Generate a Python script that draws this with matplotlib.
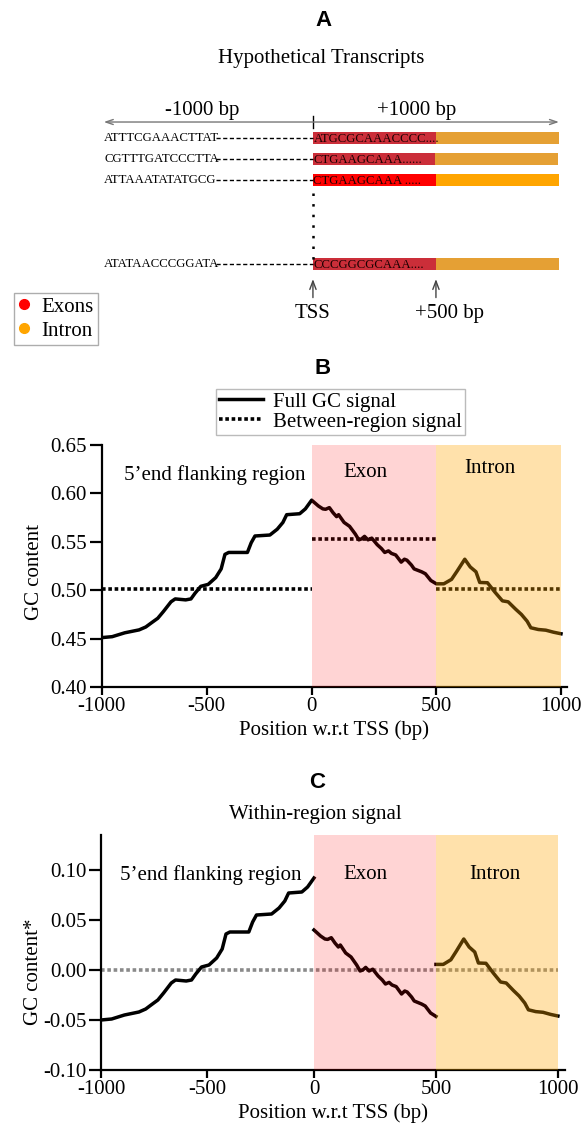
import matplotlib
matplotlib.use("Agg")
import matplotlib.pyplot as plt
import numpy as np
from matplotlib.lines import Line2D

# ---------------- data ----------------
# panel A: hypothetical transcripts
upstream_seqs = ["ATTTCGAAACTTAT", "CGTTTGATCCCTTA", "ATTAAATATATGCG", "ATATAACCCGGATA"]
exon_seqs = ["ATGCGCAAACCCC....", "CTGAAGCAAA......", "CTGAAGCAAA .....", "CCCGGCGCAAA...."]
row_pos = [0, 1, 2, 6]
exon_end = [500, 498, 500, 500]
transcript_end = [1000, 995, 1000, 1000]
exon_colors = ["#cb2e39", "#cb2e39", "#ff0000", "#cb2e39"]
intron_colors = ["#e5a034", "#e5a034", "#ffa500", "#e5a034"]

# panel B: GC content along the three regions
flank_x = [-1000, -950, -890, -822, -790, -765, -733, -706, -670, -650,
           -600, -575, -555, -528, -493, -457, -431, -413, -395, -306,
           -288, -270, -199, -164, -137, -119, -57, -30, 0]
flank_gc = [0.451, 0.452, 0.456, 0.459, 0.462, 0.466, 0.471, 0.478, 0.488, 0.491,
            0.490, 0.491, 0.497, 0.504, 0.506, 0.513, 0.522, 0.537, 0.539, 0.539,
            0.549, 0.556, 0.557, 0.563, 0.570, 0.578, 0.579, 0.584, 0.593]
exon_x = [0, 27, 45, 56, 71, 86, 100, 108, 130, 152,
          175, 189, 200, 212, 226, 241, 263, 280, 293, 308,
          320, 337, 359, 372, 382, 400, 411, 441, 456, 478, 500]
exon_gc = [0.593, 0.587, 0.584, 0.5836, 0.5853, 0.580, 0.576, 0.578, 0.570, 0.566,
           0.558, 0.552, 0.553, 0.5556, 0.552, 0.5538, 0.547, 0.543, 0.539, 0.5406,
           0.538, 0.5364, 0.529, 0.532, 0.531, 0.526, 0.522, 0.519, 0.517, 0.510, 0.5066]
intron_x = [500, 530, 561, 583, 614, 636, 659, 674, 705, 735,
            765, 788, 818, 841, 864, 879, 909, 939, 970, 1000]
intron_gc = [0.5066, 0.5066, 0.5112, 0.5196, 0.532, 0.524, 0.519, 0.508, 0.5077, 0.498,
             0.489, 0.488, 0.4804, 0.475, 0.468, 0.4612, 0.4594, 0.4587, 0.4566, 0.455]

region_names = ["5\u2019end flanking region", "Exon", "Intron"]
region_bounds = [(-1000, 0), (0, 500), (500, 1000)]
between_gc = [0.501, 0.553, 0.501]

xticks = [-1000, -500, 0, 500, 1000]
b_yticks = [0.40, 0.45, 0.50, 0.55, 0.60, 0.65]
c_yticks = [-0.10, -0.05, 0.00, 0.05, 0.10]

# ---------------- style ----------------
plt.rcParams["font.family"] = ["Liberation Serif", "DejaVu Serif"]
plt.rcParams["font.size"] = 15
plt.rcParams["axes.unicode_minus"] = False

W, H = 587, 1137
fig = plt.figure(figsize=(W / 100, H / 100), dpi=100)


def fy(px):
    # pixel row -> figure fraction
    return 1 - px / H


def letter(x, y, s):
    fig.text(x / W, fy(y), s, ha="center", va="center", fontsize=16,
             fontweight="bold", family="Liberation Sans")


# x axis is squeezed on the upstream side
def make_scale(k):
    def fwd(x):
        x = np.asarray(x, dtype=float)
        return np.where(x < 0, x * k, x)

    def inv(u):
        u = np.asarray(u, dtype=float)
        return np.where(u < 0, u / k, u)
    return fwd, inv


def style_axes(ax, k, xright):
    ax.set_xscale("function", functions=make_scale(k))
    ax.set_xlim(-1000, xright)
    ax.set_xticks(xticks)
    ax.set_xticklabels([str(t) for t in xticks])
    for s in ["top", "right"]:
        ax.spines[s].set_visible(False)
    for s in ["left", "bottom"]:
        ax.spines[s].set_linewidth(1.6)
    ax.tick_params(axis="y", length=8.5, width=1.6, pad=2)
    ax.tick_params(axis="x", length=5.5, width=1.6, pad=2)
    ax.set_xlabel("Position w.r.t TSS (bp)", labelpad=3)
    ax.axvspan(0, 500, color="red", alpha=0.17, lw=0, zorder=3)
    ax.axvspan(500, 1000, color="orange", alpha=0.33, lw=0, zorder=3)


# ---------------- panel A ----------------
letter(324, 20, "A")
fig.text(321 / W, fy(58), "Hypothetical Transcripts", ha="center", va="center")

ax_a = fig.add_axes([0, fy(340), 1, 340 / H])
ax_a.axis("off")
ax_a.set_xlim(-1272, 1114)
ax_a.set_ylim(9.62, -6.57)

for i, r in enumerate(row_pos):
    ax_a.barh(r, exon_end[i], left=0, height=0.57, color=exon_colors[i])
    ax_a.barh(r, transcript_end[i] - exon_end[i], left=exon_end[i], height=0.57,
              color=intron_colors[i])
    ax_a.text(2, r + 0.05, exon_seqs[i], fontsize=9.2, va="center", ha="left", color="#1a0000")
    ax_a.text(-848, r, upstream_seqs[i], fontsize=9.2, va="center", ha="left")
    ax_a.plot([-392, 0], [r, r], ls=(0, (3, 1.8)), color="black", lw=1)

ax_a.plot([0, 0], [2.6, 5.8], ls=(0, (1, 3.24)), color="black", lw=1.8)

ax_a.annotate("", xy=(-850, -0.76), xytext=(1000, -0.76),
              arrowprops=dict(arrowstyle="<->,head_length=0.35,head_width=0.12",
                              color="#777777", lw=1, shrinkA=0, shrinkB=0))
ax_a.plot([0, 0], [-1.05, -0.48], color="black", lw=1)
ax_a.text(-451, -1.33, "-1000 bp", ha="center", va="center")
ax_a.text(423, -1.33, "+1000 bp", ha="center", va="center")

for xa in [0, 500]:
    ax_a.annotate("", xy=(xa, 6.72), xytext=(xa, 7.6),
                  arrowprops=dict(arrowstyle="->,head_length=0.4,head_width=0.15",
                                  color="#444444", lw=1, shrinkA=0, shrinkB=0))
ax_a.text(0, 8.38, "TSS", ha="center", va="center")
ax_a.text(555, 8.38, "+500 bp", ha="center", va="center")

handles_a = [Line2D([], [], ls="none", marker="o", ms=7, color="red", label="Exons"),
             Line2D([], [], ls="none", marker="o", ms=7, color="orange", label="Intron")]
fig.legend(handles=handles_a, loc="upper left", bbox_to_anchor=(14 / W, fy(293)),
           frameon=True, fancybox=False, edgecolor="#999999", borderpad=0.2,
           labelspacing=0.2, handlelength=0.6, handletextpad=0.5, borderaxespad=0)

# ---------------- panel B ----------------
letter(323, 368, "B")
ax_b = fig.add_axes([101.7 / W, fy(687), 465.3 / W, 242 / H])
style_axes(ax_b, 0.842, 1024)
ax_b.set_ylim(0.40, 0.65)
ax_b.set_yticks(b_yticks)
ax_b.set_yticklabels(["%.2f" % v for v in b_yticks])
ax_b.set_ylabel("GC content")
ax_b.yaxis.set_label_coords(-0.125, 0.475)

full_x = flank_x + exon_x[1:] + intron_x[1:]
full_gc = flank_gc + exon_gc[1:] + intron_gc[1:]
ax_b.plot(full_x, full_gc, color="black", lw=2.5, zorder=2, label="Full GC signal")
for j, (x0, x1) in enumerate(region_bounds):
    ax_b.plot([x0, x1], [between_gc[j], between_gc[j]], color="black", lw=2.6,
              ls=(0, (1, 0.75)), zorder=2,
              label="Between-region signal" if j == 0 else None)

b_label_pos = [(-460, 0.619), (215, 0.622), (716, 0.626)]
for name, (tx, ty) in zip(region_names, b_label_pos):
    ax_b.text(tx, ty, name, ha="center", va="center", zorder=4)

ax_b.legend(loc="upper center", bbox_to_anchor=(0.513, 1.232), frameon=True,
            fancybox=False, edgecolor="#aaaaaa", borderpad=0.15, labelspacing=0.02,
            handlelength=2.1, handletextpad=0.5, borderaxespad=0)

# ---------------- panel C ----------------
letter(317, 783, "C")
fig.text(315 / W, fy(814), "Within-region signal", ha="center", va="center")
ax_c = fig.add_axes([101 / W, fy(1070), 464 / W, 235 / H])
style_axes(ax_c, 0.873, 1029)
ax_c.set_ylim(-0.10, 0.135)
ax_c.set_yticks(c_yticks)
ax_c.set_yticklabels(["%.2f" % v for v in c_yticks])
ax_c.set_ylabel("GC content*")
ax_c.yaxis.set_label_coords(-0.125, 0.42)

ax_c.plot([-1000, 1000], [0, 0], color="#8a8a8a", lw=2.6, ls=(0, (1, 0.75)), zorder=2)
segments = [(flank_x, flank_gc), (exon_x, exon_gc), (intron_x, intron_gc)]
for j, (sx, sg) in enumerate(segments):
    # within-region signal: full signal minus the region's mean
    ax_c.plot(sx, np.array(sg) - between_gc[j], color="black", lw=2.5, zorder=2)

c_label_pos = [(-485, 0.095), (213, 0.095), (742, 0.095)]
for name, (tx, ty) in zip(region_names, c_label_pos):
    ax_c.text(tx, ty, name, ha="center", va="center", zorder=4)

fig.savefig("out.png", dpi=100)
